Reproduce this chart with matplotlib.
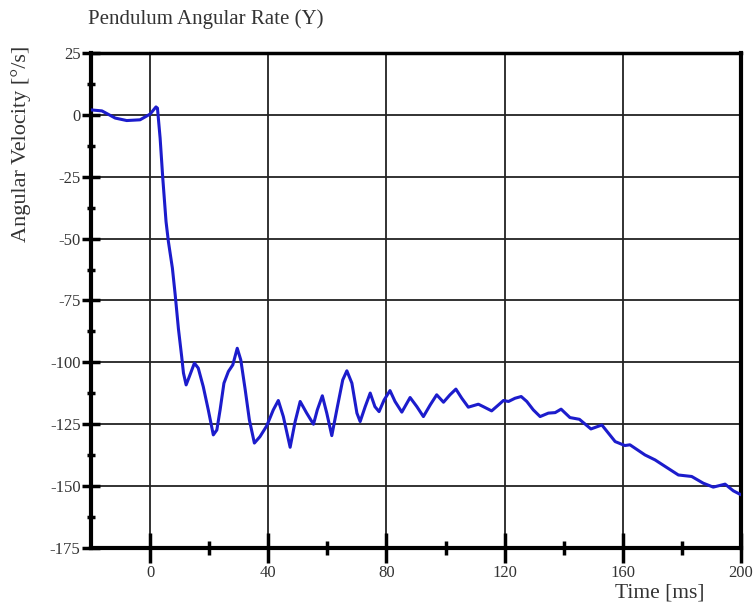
import matplotlib.pyplot as plt
from matplotlib.ticker import FixedLocator

t_ms = [-20, -16.3, -11.8, -7.9, -3.4, 0, 2.0, 2.5, 3.4, 4.3, 5.4, 6.2, 7.55, 8.5,
        9.6, 10.7, 11.3, 12.2, 13.3, 15.0, 16.3, 18.0, 19.7, 21.4, 22.6, 23.7,
        25.0, 26.5, 28.0, 29.5, 30.7, 32.2, 33.6, 35.3, 37.2, 39.5, 41.7, 43.4,
        45.1, 47.4, 49.1, 50.8, 53.0, 55.3, 56.6, 58.3, 59.8, 61.5, 63.4, 65.2,
        66.6, 68.3, 70.0, 71.1, 72.8, 74.5, 76.1, 77.5, 79.2, 81.2, 82.9, 85.2,
        88.0, 90.3, 92.5, 94.8, 97.0, 99.3, 101.5, 103.5, 105.5, 107.7, 111.1,
        112.8, 115.6, 117.9, 119.6, 121.3, 123.5, 125.6, 127.5, 129.7, 132.0,
        134.8, 137.1, 139.1, 142.1, 145.3, 149.2, 152.9, 157.4, 160.7, 162.4,
        167.5, 170.9, 174.9, 178.8, 183.3, 187.2, 190.6, 194.6, 197.4, 200]
omega = [2.0, 1.6, -1.3, -2.3, -2.0, 0.3, 3.2, 2.7, -9.4, -25.6, -43.1, -51.2, -61.9, -72.7,
         -86.5, -97.7, -104.3, -109.1, -105.7, -100.3, -102.3, -109.8, -119.2, -129.3, -127.3, -119.2,
         -108.4, -103.7, -101.0, -94.3, -99.0, -111.1, -123.2, -132.6, -130.0, -125.6, -119.2, -115.4,
         -121.9, -134.3, -123.9, -115.8, -120.5, -125.0, -119.2, -113.5, -120.5, -129.6, -117.9, -107.1,
         -103.4, -108.4, -120.5, -123.9, -117.9, -112.4, -117.9, -119.9, -115.2, -111.4, -115.8, -120.1,
         -114.2, -117.9, -121.9, -117.2, -113.1, -116.1, -113.1, -110.8, -114.5, -118.1, -116.9,
         -117.9, -119.6, -117.2, -115.4, -115.8, -114.5, -113.8, -115.8, -119.2, -121.9,
         -120.5, -120.3, -118.9, -122.3, -123.0, -126.9, -125.3, -132.0, -133.6, -133.3,
         -137.4, -139.4, -142.5, -145.5, -146.1, -148.8, -150.4, -149.2, -151.9, -153.5]

x_major = [0, 40, 80, 120, 160, 200]
x_minor = [20, 60, 100, 140, 180]
y_major = [-175, -150, -125, -100, -75, -50, -25, 0, 25]
y_minor = [-162.5, -137.5, -112.5, -87.5, -62.5, -37.5, -12.5, 12.5]

plt.rcParams['font.family'] = ['Liberation Serif', 'DejaVu Serif']
plt.rcParams['axes.unicode_minus'] = False

fig = plt.figure(figsize=(7.55, 6.04), dpi=100)
ax = fig.add_axes([0.1205, 0.0927, 0.861, 0.8196])

ax.plot(t_ms, omega, color='#1c1ccc', linewidth=2.2, zorder=3,
        solid_joinstyle='round', solid_capstyle='round')

ax.set_xlim(-20, 200)
ax.set_ylim(-175, 25)

ax.xaxis.set_major_locator(FixedLocator(x_major))
ax.xaxis.set_minor_locator(FixedLocator(x_minor))
ax.yaxis.set_major_locator(FixedLocator(y_major))
ax.yaxis.set_minor_locator(FixedLocator(y_minor))

ax.grid(True, which='major', color='#222222', linewidth=1.3)
ax.set_axisbelow(True)

ax.tick_params(axis='x', which='major', direction='inout', length=21, width=2.5,
               labelsize=12, pad=2, labelcolor='#333333')
ax.tick_params(axis='x', which='minor', direction='inout', length=10, width=2.5)
ax.tick_params(axis='y', which='major', direction='inout', length=13, width=2.5,
               labelsize=12, pad=1, labelcolor='#333333')
ax.tick_params(axis='y', which='minor', direction='inout', length=6, width=2.5)

for side in ['left', 'bottom', 'right']:
    ax.spines[side].set_linewidth(3)
ax.spines['top'].set_linewidth(2.5)

fig.text(0.272, 0.968, 'Pendulum Angular Rate (Y)', fontsize=15, color='#333333',
         ha='center', va='center')
fig.text(0.028, 0.762, 'Angular Velocity [°/s]', fontsize=16, color='#333333',
         rotation=90, ha='center', va='center')
fig.text(0.874, 0.019, 'Time [ms]', fontsize=15.5, color='#333333',
         ha='center', va='center')

fig.savefig('out.png', dpi=100)
